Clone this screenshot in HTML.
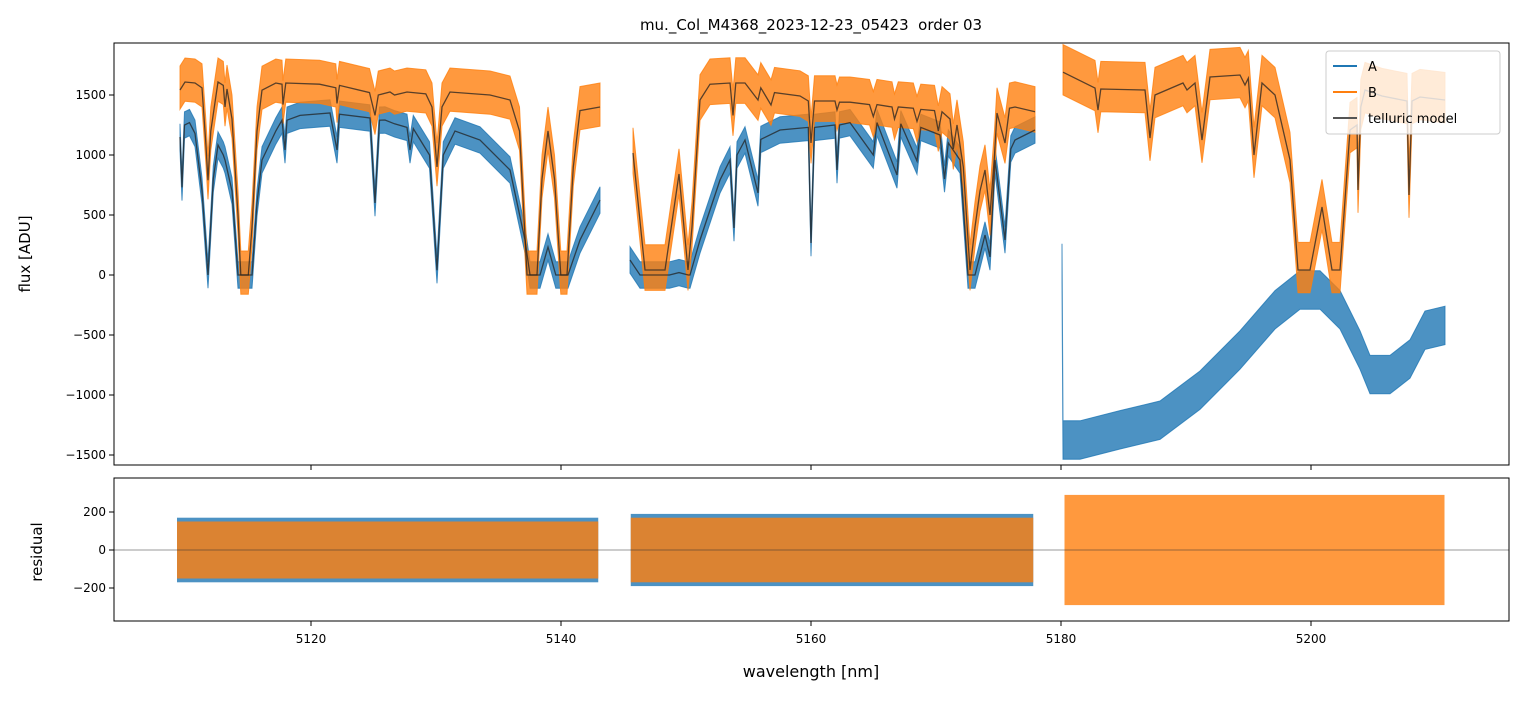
<!DOCTYPE html>
<html><head><meta charset="utf-8">
<style>
body{margin:0;background:#fff;font-family:"Liberation Sans","DejaVu Sans",sans-serif;}
svg text{font-family:"DejaVu Sans","Liberation Sans",sans-serif;}
</style></head>
<body>
<svg id="chart" width="1523" height="696" viewBox="0 0 1523 696" xmlns="http://www.w3.org/2000/svg">
<defs>
<clipPath id="clipTop"><rect x="114" y="43" width="1395" height="422"/></clipPath>
<clipPath id="clipBot"><rect x="114" y="478" width="1395" height="143"/></clipPath>
</defs>
<text x="811" y="30" text-anchor="middle" font-size="15" style="white-space:pre">mu._Col_M4368_2023-12-23_05423  order 03</text>
<g id="topArea" clip-path="url(#clipTop)"></g>
<g id="botArea" clip-path="url(#clipBot)"></g>
<g id="axesG"></g>
<text transform="translate(30,254) rotate(-90)" text-anchor="middle" font-size="15">flux [ADU]</text>
<text transform="translate(42,552) rotate(-90)" text-anchor="middle" font-size="15">residual</text>
<text x="811" y="677" text-anchor="middle" font-size="16">wavelength [nm]</text>
<g>
<rect x="1326" y="51" width="174" height="83" rx="3" fill="#fff" fill-opacity="0.8" stroke="#ccc"/>
<line x1="1333" y1="66" x2="1357" y2="66" stroke="#1f77b4" stroke-width="2"/>
<text x="1368" y="71" font-size="13">A</text>
<line x1="1333" y1="92" x2="1357" y2="92" stroke="#ff7f0e" stroke-width="2"/>
<text x="1368" y="97" font-size="13">B</text>
<line x1="1333" y1="118" x2="1357" y2="118" stroke="#555" stroke-width="2"/>
<text x="1368" y="123" font-size="13">telluric model</text>
</g>
</svg>
<script>
// ---- data ----
const xTicks = [5120, 5140, 5160, 5180, 5200];
const yTicksTop = [1500, 1000, 500, 0, -500, -1000, -1500];
const yTicksBot = [200, 0, -200];
// wavelength calibration correction applied to the tabulated wavelengths below (nm)
const wlCalibration = -0.32;

const modelB1 = [[5109.84,1542],[5110.24,1608],[5111.04,1600],[5111.6,1560],[5111.9,1100],[5112.08,790],[5112.3,1200],[5112.88,1608],[5113.3,1580],[5113.44,1400],[5113.6,1550],[5114.0,1300],[5114.48,500],[5114.7,0],[5115.3,0],[5115.6,400],[5116.0,1200],[5116.4,1540],[5117.5,1600],[5118.0,1590],[5118.08,1420],[5118.3,1600],[5121.0,1590],[5122.3,1560],[5122.4,1430],[5122.6,1580],[5125.0,1520],[5125.44,1330],[5125.7,1500],[5126.64,1525],[5127.0,1500],[5128.0,1525],[5129.5,1510],[5130.0,1400],[5130.4,900],[5130.8,1400],[5131.44,1525],[5134.64,1500],[5136.24,1458],[5137.0,1200],[5137.6,0],[5138.4,0],[5138.8,800],[5139.28,1200],[5139.8,800],[5140.3,0],[5140.8,0],[5141.3,900],[5141.84,1370],[5143.44,1400]];
const modelA1 = [[5109.84,1150],[5110.0,730],[5110.2,1250],[5110.6,1270],[5111.04,1180],[5111.6,700],[5112.08,0],[5112.5,800],[5112.88,1083],[5113.3,1000],[5113.44,958],[5114.0,700],[5114.48,0],[5115.6,0],[5116.0,600],[5116.4,958],[5117.5,1200],[5118.0,1290],[5118.24,1042],[5118.4,1290],[5119.44,1330],[5121.84,1350],[5122.4,1042],[5122.6,1340],[5125.04,1308],[5125.44,600],[5125.8,1290],[5126.24,1292],[5127.0,1260],[5128.0,1230],[5128.24,1042],[5128.5,1220],[5129.8,1000],[5130.4,40],[5130.9,1000],[5131.84,1200],[5133.84,1125],[5136.24,875],[5137.44,292],[5137.84,0],[5138.64,0],[5139.28,233],[5139.9,0],[5140.88,0],[5141.84,292],[5143.44,625]];
const modelB2 = [[5146.08,1017],[5147.04,42],[5148.64,42],[5149.76,842],[5150.48,42],[5150.8,400],[5151.44,1458],[5152.24,1590],[5153.84,1600],[5154.08,1330],[5154.3,1600],[5155.04,1600],[5156.08,1458],[5156.3,1560],[5157.12,1417],[5157.4,1520],[5159.44,1492],[5160.1,1450],[5160.32,1100],[5160.6,1450],[5162.24,1450],[5162.4,1375],[5162.6,1440],[5163.44,1440],[5165.0,1420],[5165.3,1320],[5165.6,1420],[5166.8,1400],[5167.0,1300],[5167.3,1400],[5168.5,1390],[5168.8,1280],[5169.1,1380],[5170.2,1370],[5170.5,1200],[5170.8,1360],[5171.44,1300],[5171.7,1050],[5172.0,1250],[5172.5,900],[5173.04,42],[5173.44,400],[5173.84,700],[5174.24,875],[5174.64,500],[5175.0,1000],[5175.2,1350],[5175.84,1100],[5176.2,1390],[5176.64,1400],[5178.24,1360]];
const modelA2 = [[5145.84,125],[5146.64,0],[5149.0,0],[5149.76,20],[5150.5,0],[5150.64,0],[5151.44,292],[5153.04,792],[5153.84,958],[5154.16,392],[5154.4,1000],[5155.04,1125],[5156.08,683],[5156.3,1130],[5157.84,1208],[5160.1,1230],[5160.32,267],[5160.6,1230],[5162.24,1250],[5162.4,875],[5162.6,1250],[5163.44,1270],[5165.3,1000],[5165.6,1270],[5167.2,833],[5167.5,1260],[5168.8,950],[5169.1,1230],[5170.64,1167],[5171.0,800],[5171.3,1100],[5172.24,958],[5172.88,0],[5173.44,0],[5174.24,333],[5174.64,150],[5175.04,958],[5175.84,292],[5176.3,1050],[5176.64,1125],[5178.24,1208]];
const modelB3 = [[5180.48,1690],[5183.04,1558],[5183.28,1375],[5183.5,1550],[5187.04,1542],[5187.44,1142],[5187.84,1500],[5190.08,1600],[5190.4,1542],[5191.04,1600],[5191.6,1125],[5192.24,1650],[5194.64,1667],[5195.04,1583],[5195.3,1640],[5195.76,1000],[5196.4,1600],[5197.44,1500],[5198.64,958],[5199.28,42],[5200.24,42],[5201.2,567],[5202.0,42],[5202.64,42],[5203.44,1208],[5204.0,1250],[5204.08,708],[5204.3,1400],[5204.64,1542],[5206.0,1492],[5208.0,1450],[5208.16,667],[5208.4,1450],[5209.04,1483],[5211.04,1458]];
const fluxA3 = [[5180.4,100],[5180.48,-1375],[5181.84,-1375],[5185.04,-1290],[5188.24,-1210],[5191.44,-960],[5194.64,-625],[5197.44,-290],[5199.44,-125],[5201.04,-125],[5202.64,-290],[5204.24,-625],[5205.04,-830],[5206.64,-830],[5208.24,-700],[5209.44,-460],[5211.04,-420]];
const noiseA = [110, 110, 160];
const noiseB = [160, 170, 190];
const residSegments = [[5109.6,5143.3],[5145.9,5178.1],[5180.6,5211.0]];
const residSpreadA = [170, 190, 0];
const residSpreadB = [150, 170, 290];

// ---- scales ----
const XA = w => 114 + (w - 5104.24) * 12.5;          // axis scale
const X = w => XA(w + wlCalibration);                 // data wavelengths (calibrated)
const YT = v => 275 - v * 0.12;
const YB = v => 550 - v * 0.19;
const NS = "http://www.w3.org/2000/svg";
function mk(tag, attrs, parent){const e=document.createElementNS(NS,tag);for(const k in attrs)e.setAttribute(k,attrs[k]);parent.appendChild(e);return e;}
const gTop = document.getElementById('topArea'), gBot = document.getElementById('botArea'), gAxes = document.getElementById('axesG');

function band(pts, lo, hi, color, op, name){
  const up = pts.map(p => X(p[0]).toFixed(1)+','+YT(p[1]+hi).toFixed(1));
  const dn = pts.slice().reverse().map(p => X(p[0]).toFixed(1)+','+YT(p[1]-lo).toFixed(1));
  const e = mk('polygon',{points:up.concat(dn).join(' '),fill:color,'fill-opacity':op,stroke:color,'stroke-width':1,'stroke-opacity':op},gTop);
  
  
}
function line(pts, color, w, op, name){
  const e = mk('polyline',{points:pts.map(p=>X(p[0]).toFixed(1)+','+YT(p[1]).toFixed(1)).join(' '),fill:'none',stroke:color,'stroke-width':w,'stroke-opacity':op},gTop);
  
  
}
band(modelA1, noiseA[0], noiseA[0], '#1f77b4', 0.8, 'series-a-seg1');
band(modelA2, noiseA[1], noiseA[1], '#1f77b4', 0.8, 'series-a-seg2');
band(fluxA3, noiseA[2], noiseA[2], '#1f77b4', 0.8, 'series-a-seg3');
band(modelB1, noiseB[0], noiseB[0]+40, '#ff7f0e', 0.8, 'series-b-seg1');
band(modelB2, noiseB[1], noiseB[1]+40, '#ff7f0e', 0.8, 'series-b-seg2');
band(modelB3, noiseB[2], noiseB[2]+40, '#ff7f0e', 0.8, 'series-b-seg3');
[modelA1, modelB1, modelA2, modelB2, modelB3].forEach((m,i)=>line(m,'#222',1.3,0.75,'telluric-model-'+i));

residSegments.forEach((s,i)=>{
  if(residSpreadA[i]>0){
    const r = mk('rect',{x:X(s[0]),y:YB(residSpreadA[i]),width:X(s[1])-X(s[0]),height:YB(-residSpreadA[i])-YB(residSpreadA[i]),fill:'#1f77b4','fill-opacity':0.8},gBot);
    
    
  }
  const r2 = mk('rect',{x:X(s[0]),y:YB(residSpreadB[i]),width:X(s[1])-X(s[0]),height:YB(-residSpreadB[i])-YB(residSpreadB[i]),fill:'#ff7f0e','fill-opacity':0.8},gBot);
  
  
});
const zl = mk('line',{x1:114,x2:1509,y1:YB(0),y2:YB(0),stroke:'#333','stroke-width':0.6},gBot);



const f1 = mk('rect',{x:114,y:43,width:1395,height:422,fill:'none',stroke:'#000','stroke-width':1},gAxes);


const f2 = mk('rect',{x:114,y:478,width:1395,height:143,fill:'none',stroke:'#000','stroke-width':1},gAxes);


xTicks.forEach(t=>{
  mk('line',{x1:XA(t),x2:XA(t),y1:465,y2:470,stroke:'#000'},gAxes);
  mk('line',{x1:XA(t),x2:XA(t),y1:621,y2:626,stroke:'#000'},gAxes);
  const tx = mk('text',{x:XA(t),y:643,'text-anchor':'middle','font-size':12},gAxes);
  tx.textContent = t;
  
  
});
yTicksTop.forEach(t=>{
  mk('line',{x1:109,x2:114,y1:YT(t),y2:YT(t),stroke:'#000'},gAxes);
  const tx = mk('text',{x:106,y:YT(t)+4,'text-anchor':'end','font-size':12},gAxes);
  tx.textContent = t<0 ? '\u2212'+Math.abs(t) : t;
  
  
});
yTicksBot.forEach(t=>{
  mk('line',{x1:109,x2:114,y1:YB(t),y2:YB(t),stroke:'#000'},gAxes);
  const tx = mk('text',{x:106,y:YB(t)+4,'text-anchor':'end','font-size':12},gAxes);
  tx.textContent = t<0 ? '\u2212'+Math.abs(t) : t;
  
  
});
</script>
</body></html>
